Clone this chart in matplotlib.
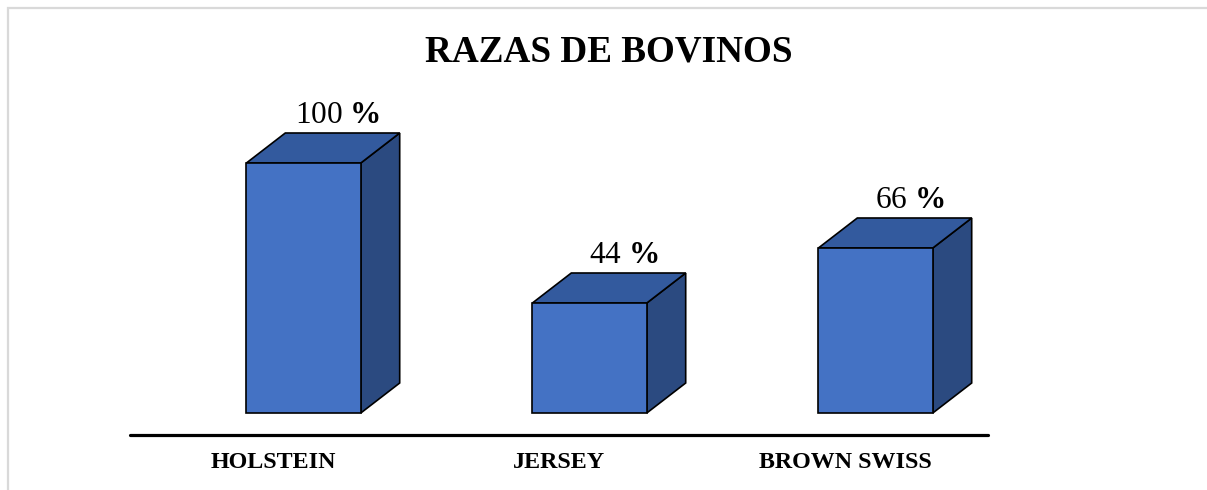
import matplotlib
matplotlib.use("Agg")
import matplotlib.pyplot as plt
from matplotlib.patches import Polygon, Rectangle

plt.rcParams['font.family'] = ['Liberation Serif', 'DejaVu Serif']
plt.rcParams['mathtext.fontset'] = 'custom'
plt.rcParams['mathtext.rm'] = 'Liberation Serif'
plt.rcParams['mathtext.bf'] = 'Liberation Serif:bold'

categories = ["HOLSTEIN", "JERSEY", "BROWN SWISS"]
values = [100, 44, 66]
title = "RAZAS DE BOVINOS"

FRONT = "#4472C4"
TOP = "#335A9E"
SIDE = "#2B4A80"

fig = plt.figure(figsize=(12.07, 4.9), dpi=100)
fig.patch.set_facecolor("white")

# light frame (top & left visible)
fig.patches.append(Rectangle((7.5 / 1207, -0.2), 1.3, (490 - 8.5) / 490 + 0.2,
                             transform=fig.transFigure, fill=False,
                             edgecolor="#D9D9D9", linewidth=1.6, zorder=0))

ax = fig.add_axes([130 / 1207, 55 / 490, 858 / 1207, 322 / 490])
ax.set_xlim(-0.5, 2.5)
ax.set_ylim(-8.8, 120)
for s in ["top", "left", "right"]:
    ax.spines[s].set_visible(False)
ax.spines["bottom"].set_linewidth(2.3)
ax.spines["bottom"].set_color("black")
ax.spines["bottom"].set_capstyle("round")
ax.set_yticks([])
ax.set_xticks(range(len(categories)))
ax.set_xticklabels(categories, fontsize=17.3, fontweight="bold")
ax.tick_params(axis="x", length=0, pad=12.5)
ax.patch.set_alpha(0)

off = 0.107   # front-face shift
w = 0.4       # bar width
dx = 0.136    # depth offset (x)
dy = 12       # depth offset (y)
lw = 1.2

for i, v in enumerate(values):
    x0 = i + off - w / 2
    x1 = x0 + w
    front = [(x0, 0), (x1, 0), (x1, v), (x0, v)]
    top = [(x0, v), (x1, v), (x1 + dx, v + dy), (x0 + dx, v + dy)]
    side = [(x1, 0), (x1 + dx, dy), (x1 + dx, v + dy), (x1, v)]
    for pts, c in [(side, SIDE), (top, TOP), (front, FRONT)]:
        ax.add_patch(Polygon(pts, closed=True, facecolor=c, edgecolor="black",
                             linewidth=lw, joinstyle="miter", clip_on=False))
    ax.text(i + off + 0.12, v + dy + 4.2, f"{v} $\\mathbf{{\\%}}$",
            ha="center", va="baseline", fontsize=22.5, clip_on=False)

fig.text(609 / 1207, (490 - 61) / 490, title, ha="center", va="baseline",
         fontsize=26.7, fontweight="bold")

fig.savefig("out.png", dpi=100, facecolor="white")
